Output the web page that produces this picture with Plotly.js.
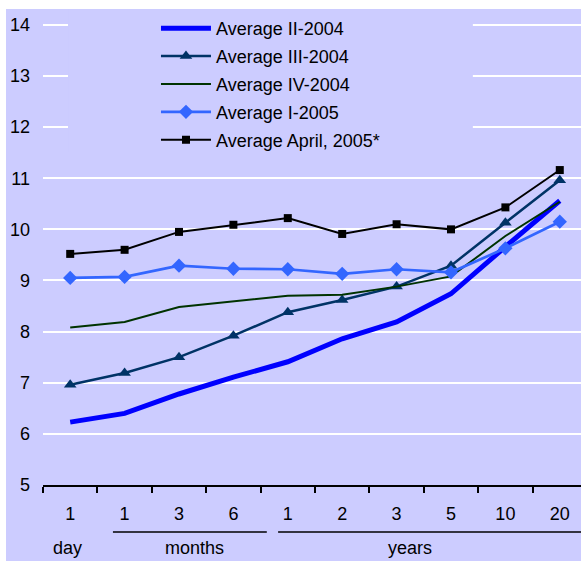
<!DOCTYPE html>
<html>
<head>
<meta charset="utf-8">
<script src="https://cdn.plot.ly/plotly-3.0.1.min.js"></script>
<style>
html,body{margin:0;padding:0;background:#ffffff;}
#chart{position:absolute;left:6px;top:9px;width:575px;height:552px;}
</style>
</head>
<body>
<div id="chart"></div>
<script>
var categories = ["d1","m1","m3","m6","y1","y2","y3","y5","y10","y20"];
var tickLabels = ["1","1","3","6","1","2","3","5","10","20"];
var groupLabels = ["day","months","years"];

var seriesNames = ["Average II-2004","Average III-2004","Average IV-2004","Average I-2005","Average April, 2005*"];
var avgII2004   = [6.23, 6.40, 6.78, 7.11, 7.41, 7.86, 8.19, 8.74, 9.66, 10.56];
var avgIII2004  = [6.96, 7.19, 7.50, 7.92, 8.38, 8.62, 8.88, 9.29, 10.13, 10.96];
var avgIV2004   = [8.08, 8.19, 8.48, 8.59, 8.70, 8.72, 8.88, 9.08, 9.87, 10.54];
var avgI2005    = [9.05, 9.07, 9.29, 9.23, 9.22, 9.13, 9.22, 9.16, 9.63, 10.15];
var avgApr2005  = [9.52, 9.60, 9.95, 10.09, 10.22, 9.91, 10.10, 10.00, 10.43, 11.16];

var FONT = "Arial, 'Liberation Sans', sans-serif";
var LAV = "#ccccff";

var traces = [
  {x: categories, y: avgII2004, name: seriesNames[0], mode: "lines",
   line: {color: "#0000ff", width: 5}, legendgroup: "g1"},
  {x: categories, y: avgIII2004, name: seriesNames[1], mode: "lines+markers",
   line: {color: "#003366", width: 2.5}, marker: {symbol: "triangle-up", size: 11, color: "#003366"}, legendgroup: "g2"},
  {x: categories, y: avgIV2004, name: seriesNames[2], mode: "lines",
   line: {color: "#003300", width: 2}, legendgroup: "g3"},
  {x: categories, y: avgI2005, name: seriesNames[3], mode: "lines+markers",
   line: {color: "#3366ff", width: 2.7}, marker: {symbol: "diamond", size: 11, color: "#3366ff"}, legendgroup: "g4"},
  {x: categories, y: avgApr2005, name: seriesNames[4], mode: "lines+markers",
   line: {color: "#000000", width: 2}, marker: {symbol: "square", size: 8, color: "#000000"}, legendgroup: "g5"}
];

var layout = {
  width: 575, height: 552,
  margin: {l: 37, r: 0, t: 0, b: 76, pad: 0},
  paper_bgcolor: LAV, plot_bgcolor: LAV,
  font: {family: FONT, size: 18, color: "#000000"},
  showlegend: true,
  legend: {x: 0.21, y: 0.998, xanchor: "left", yanchor: "top", bgcolor: LAV, borderwidth: 0,
           font: {family: FONT, size: 18, color: "#000"}, tracegroupgap: 1.5, itemwidth: 50},
  xaxis: {type: "category", range: [-0.5, 9.39], tickmode: "array", tickvals: categories, ticktext: tickLabels,
          tickson: "boundaries", ticks: "outside", ticklen: 6, tickwidth: 2, tickcolor: "#000",
          showline: true, linecolor: "#000", linewidth: 2, showgrid: false, zeroline: false,
          tickfont: {family: FONT, size: 18}, ticklabelstandoff: 11, fixedrange: true},
  yaxis: {range: [5, 14.31], tickvals: [5,6,7,8,9,10,11,12,13,14], ticks: "", showline: false,
          showgrid: true, gridcolor: "#ffffff", gridwidth: 2, zeroline: false,
          tickfont: {family: FONT, size: 18}, ticklabelstandoff: 12, fixedrange: true},
  shapes: [
    {type: "rect", layer: "above", xref: "paper", yref: "y", x0: 0.0465, x1: 0.799, y0: 11.5, y1: 14.31,
     fillcolor: LAV, line: {width: 0}},
    {type: "line", xref: "paper", yref: "paper", x0: 0.130, x1: 0.416, y0: -0.0987, y1: -0.0987,
     line: {color: "#000", width: 1.5}},
    {type: "line", xref: "paper", yref: "paper", x0: 0.437, x1: 1.0, y0: -0.0987, y1: -0.0987,
     line: {color: "#000", width: 1.5}}
  ],
  annotations: [
    {text: groupLabels[0], xref: "paper", yref: "paper", x: 0.0455, y: -0.1324, xanchor: "center", yanchor: "middle", showarrow: false, font: {family: FONT, size: 18}},
    {text: groupLabels[1], xref: "paper", yref: "paper", x: 0.2825, y: -0.1324, xanchor: "center", yanchor: "middle", showarrow: false, font: {family: FONT, size: 18}},
    {text: groupLabels[2], xref: "paper", yref: "paper", x: 0.682, y: -0.1324, xanchor: "center", yanchor: "middle", showarrow: false, font: {family: FONT, size: 18}}
  ]
};

Plotly.newPlot("chart", traces, layout, {displayModeBar: false, staticPlot: true});
</script>
</body>
</html>
